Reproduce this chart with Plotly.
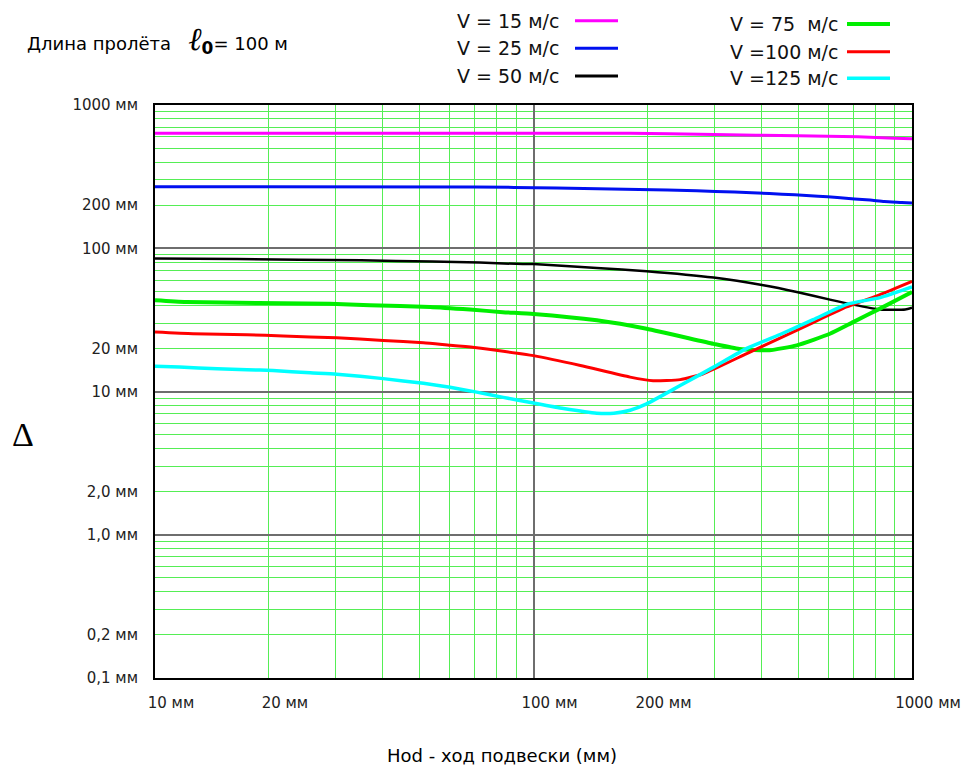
import plotly.graph_objects as go

# ---------------- data ----------------
x_v15 = [10, 180, 300, 500, 720, 900, 1000]
y_v15 = [634, 634, 622, 610, 600, 587, 582]

x_v25 = [10, 70, 115, 190, 270, 340, 420, 490, 565, 635, 705, 775, 845, 940, 1000]
y_v25 = [268.4, 268, 263, 257, 252, 246.5, 241, 236, 231, 226, 221, 217, 212, 209, 207]

x_v50 = [10, 16.5, 35, 54, 72, 90, 100, 147, 199, 299, 405, 496, 607, 699, 823, 960, 1000]
y_v50 = [84.7, 84.0, 82.4, 80.7, 79.4, 77.8, 77.5, 72.8, 69.1, 62.4, 55.1, 49.5, 43.8, 40.4, 37.4, 37.4, 38.5]

x_v75 = [10, 12.1, 29, 37, 53.3, 68, 83, 100, 147, 199, 299, 350, 420, 496, 607, 699, 823, 1000]
y_v75 = [43.3, 42.1, 41.0, 40.0, 38.9, 37.3, 35.8, 34.8, 31.4, 27.4, 21.5, 19.8, 19.4, 21.0, 25.3, 30.5, 37.9, 49.5]

x_v100 = [10, 12.6, 17.5, 21.8, 30.2, 40.1, 51.2, 60.2, 70.8, 83.2, 100, 133, 180, 207, 244, 281, 366, 448, 548, 672, 823, 1000]
y_v100 = [26.0, 25.3, 24.9, 24.4, 23.7, 22.7, 21.9, 21.0, 20.2, 19.1, 17.8, 15.2, 12.6, 11.9, 12.1, 13.3, 18.4, 23.6, 30.3, 38.9, 47.5, 58.8]

x_v125 = [10, 11.6, 14.6, 17.5, 20.5, 25.7, 30.2, 40.1, 51.2, 60.2, 70.8, 83.2, 100, 120, 147, 163, 180, 199, 244, 299, 366, 448, 548, 672, 823, 1000]
y_v125 = [15.0, 14.8, 14.4, 14.2, 14.0, 13.5, 13.2, 12.3, 11.4, 10.7, 9.9, 9.1, 8.3, 7.6, 7.05, 7.05, 7.4, 8.2, 11.0, 14.8, 20.0, 25.0, 31.7, 40.6, 45.2, 53.7]

series_names = ["V = 15 м/с", "V = 25 м/с", "V = 50 м/с",
                "V = 75\u00a0 м/с", "V =100 м/с", "V =125 м/с"]
series_x = [x_v15, x_v25, x_v50, x_v75, x_v100, x_v125]
series_y = [y_v15, y_v25, y_v50, y_v75, y_v100, y_v125]
series_colors = ["#ff00ff", "#0010f0", "#000000", "#00ee00", "#ff0000", "#00ffff"]
series_widths = [3, 3, 2.5, 4, 3, 3.5]

x_tick_vals = [10, 20, 100, 200, 1000]
x_tick_text = ["10 мм", "20 мм", "100 мм", "200 мм", "1000 мм"]
y_tick_vals = [0.1, 0.2, 1, 2, 10, 20, 100, 200, 1000]
y_tick_text = ["0,1 мм", "0,2 мм", "1,0 мм", "2,0 мм", "10 мм", "20 мм", "100 мм", "200 мм", "1000 мм"]

x_decades = [10, 100, 1000]
y_decades = [0.1, 1, 10, 100, 1000]

title_text = ("Длина пролёта&nbsp;&nbsp;&nbsp;"
              "<span style='font-family:Liberation Serif;font-size:32px;font-style:italic'>ℓ</span>"
              "<sub><span style='font-size:17px'><b>0</b></span></sub>= 100 м")
x_title = "Hod - ход подвески (мм)"
y_title = "Δ"

# ---------------- layout geometry ----------------
W, H = 972, 769
L, R, T, B = 155, 60, 105, 91
PW, PH = W - L - R, H - T - B


def px(xp):
    return (xp - L) / PW


def py(yp):
    return (H - B - yp) / PH


minor_x = [m * 10 ** e for e in (1, 2) for m in range(3, 10)]
minor_y = [m * 10.0 ** e for e in (-1, 0, 1, 2) for m in range(3, 10)]

GREEN = "#55ee55"
GRAY = "#6e6e6e"
FONT = "DejaVu Sans"

fig = go.Figure()
for name, xs, ys, c, w in zip(series_names, series_x, series_y, series_colors, series_widths):
    fig.add_trace(go.Scatter(x=xs, y=ys, mode="lines", name=name, showlegend=False,
                             line=dict(color=c, width=w, shape="spline", smoothing=0.5)))
fig.add_trace(go.Scatter(x=[], y=[], xaxis="x2", yaxis="y2", showlegend=False, hoverinfo="skip"))

fig.update_layout(
    width=W, height=H,
    margin=dict(l=L, r=R, t=T, b=B),
    paper_bgcolor="white", plot_bgcolor="white",
    showlegend=False,
    xaxis=dict(type="log", range=[1, 3], tickmode="array", tickvals=x_tick_vals, ticktext=x_tick_text,
               showgrid=True, gridcolor=GREEN, gridwidth=1,
               minor=dict(tickvals=minor_x, showgrid=True, gridcolor=GREEN, gridwidth=1, ticks=""),
               showline=True, linecolor="black", linewidth=2, mirror=True, ticks="",
               ticklabelstandoff=10, ticklabelshift=16, zeroline=False,
               tickfont=dict(family=FONT, size=15, color="#222")),
    yaxis=dict(type="log", range=[-1, 3], tickmode="array", tickvals=y_tick_vals, ticktext=y_tick_text,
               showgrid=True, gridcolor=GREEN, gridwidth=1,
               minor=dict(tickvals=minor_y, showgrid=True, gridcolor=GREEN, gridwidth=1, ticks=""),
               showline=True, linecolor="black", linewidth=2, mirror=True, ticks="",
               ticklabelstandoff=12, zeroline=False,
               tickfont=dict(family=FONT, size=15, color="#222")),
    xaxis2=dict(type="log", range=[1, 3], overlaying="x", anchor="y2", tickmode="array", tickvals=x_decades,
                showticklabels=False, showgrid=True, gridcolor=GRAY, gridwidth=2, showline=False,
                ticks="", zeroline=False),
    yaxis2=dict(type="log", range=[-1, 3], overlaying="y", anchor="x2", tickmode="array", tickvals=y_decades,
                showticklabels=False, showgrid=True, gridcolor=GRAY, gridwidth=2, showline=False,
                ticks="", zeroline=False),
)

annotations = []
shapes = []
# title
annotations.append(dict(text=title_text, xref="paper", yref="paper", x=px(25), y=py(40),
                        xanchor="left", yanchor="middle", showarrow=False,
                        font=dict(family=FONT, size=18, color="black")))
# axis titles
annotations.append(dict(text=x_title, xref="paper", yref="paper", x=px(502), y=py(755),
                        xanchor="center", yanchor="middle", showarrow=False,
                        font=dict(family=FONT, size=18, color="black")))
annotations.append(dict(text=y_title, xref="paper", yref="paper", x=px(23), y=py(434),
                        xanchor="center", yanchor="middle", showarrow=False,
                        font=dict(family="Liberation Serif", size=34, color="black")))

# legend (text then line sample)
leg_pos = [(455, 575, 618, 20.7), (455, 575, 618, 48.3), (455, 575, 618, 76),
           (728, 847, 890, 24), (728, 847, 890, 51.7), (728, 847, 890, 78.3)]
for name, c, w, (tx, lx0, lx1, ly) in zip(series_names, series_colors, series_widths, leg_pos):
    annotations.append(dict(text=name, xref="paper", yref="paper", x=px(tx), y=py(ly),
                            xanchor="left", yanchor="middle", showarrow=False,
                            font=dict(family=FONT, size=19, color="#111")))
    shapes.append(dict(type="line", xref="paper", yref="paper", x0=px(lx0), x1=px(lx1),
                       y0=py(ly), y1=py(ly), line=dict(color=c, width=max(w, 3))))

fig.update_layout(annotations=annotations, shapes=shapes)
fig.write_html("out.html", config={"displayModeBar": False},
               post_script="document.body.style.margin='0';document.body.style.overflow='hidden';")
